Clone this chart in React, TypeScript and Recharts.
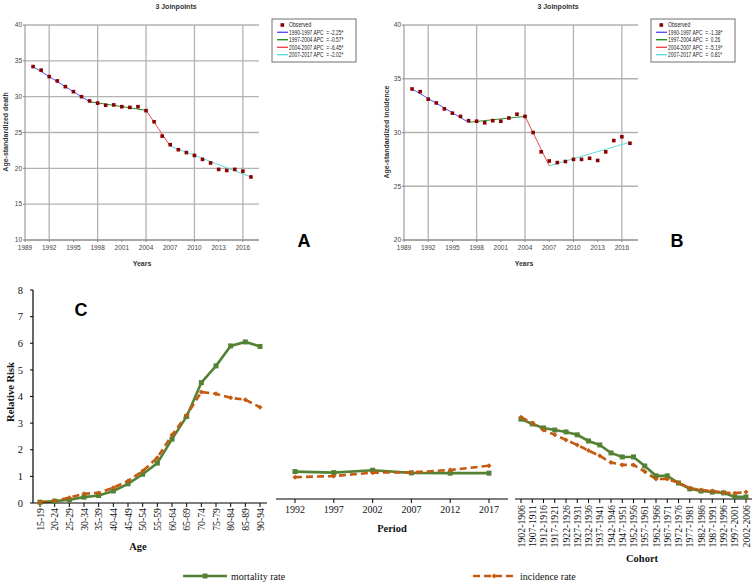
import React from 'react';
import { ComposedChart, LineChart, Line, Scatter, XAxis, YAxis, CartesianGrid } from 'recharts';

// ---------- Panels A & B (joinpoint) ----------
const YEARS = [1990, 1991, 1992, 1993, 1994, 1995, 1996, 1997, 1998, 1999, 2000, 2001, 2002, 2003, 2004, 2005, 2006, 2007, 2008, 2009, 2010, 2011, 2012, 2013, 2014, 2015, 2016, 2017];
const DEATH_OBSERVED = [34.2, 33.7, 32.8, 32.2, 31.4, 30.7, 30.0, 29.4, 29.1, 28.8, 28.85, 28.6, 28.5, 28.6, 28.05, 26.5, 24.5, 23.3, 22.6, 22.2, 21.8, 21.25, 20.75, 19.85, 19.7, 19.85, 19.6, 18.8];
const INCIDENCE_OBSERVED = [34.05, 33.8, 33.1, 32.75, 32.2, 31.8, 31.5, 31.1, 31.05, 30.9, 31.1, 31.05, 31.35, 31.7, 31.5, 30.0, 28.2, 27.35, 27.2, 27.3, 27.5, 27.5, 27.6, 27.4, 28.2, 29.25, 29.6, 29.0];
const JOINPOINT_YEARS = [1990, 1997, 2004, 2007, 2017];
const DEATH_FIT = [34.2, 29.3, 28.1, 23.1, 18.8];
const INCIDENCE_FIT = [34.05, 30.95, 31.5, 26.9, 29.1];
const DEATH_SEGMENT_LABELS = ['1990-1997 APC  = -2.25*', '1997-2004 APC  = -0.57*', '2004-2007 APC  = -6.45*', '2007-2017 APC  = -2.02*'];
const INCIDENCE_SEGMENT_LABELS = ['1990-1997 APC  = -1.38*', '1997-2004 APC  =  0.26', '2004-2007 APC  = -5.19*', '2007-2017 APC  =  0.81*'];
const SEGMENT_COLORS = ['#5252ff', '#2a8a2a', '#ee4a4a', '#5fdcdc'];
const YEAR_DOMAIN: [number, number] = [1989, 2018];
const YEAR_TICKS = [1989, 1992, 1995, 1998, 2001, 2004, 2007, 2010, 2013, 2016];
const DEATH_TICKS = [10, 15, 20, 25, 30, 35, 40];
const INCIDENCE_TICKS = [20, 25, 30, 35, 40];

// ---------- Panel C (age-period-cohort) ----------
const AGE_GROUPS = ['15-19', '20-24', '25-29', '30-34', '35-39', '40-44', '45-49', '50-54', '55-59', '60-64', '65-69', '70-74', '75-79', '80-84', '85-89', '90-94'];
const AGE_MORTALITY = [0.03, 0.07, 0.12, 0.22, 0.28, 0.45, 0.72, 1.08, 1.5, 2.4, 3.25, 4.52, 5.15, 5.9, 6.05, 5.88];
const AGE_INCIDENCE = [0.03, 0.08, 0.2, 0.35, 0.38, 0.57, 0.83, 1.2, 1.7, 2.55, 3.3, 4.17, 4.1, 3.95, 3.88, 3.6];
const PERIODS = ['1992', '1997', '2002', '2007', '2012', '2017'];
const PERIOD_MORTALITY = [1.03, 0.99, 1.08, 0.98, 0.97, 0.97];
const PERIOD_INCIDENCE = [0.82, 0.86, 0.99, 1.0, 1.09, 1.25];
const COHORTS = ['1902-1906', '1907-1911', '1912-1916', '1917-1921', '1922-1926', '1927-1931', '1932-1936', '1937-1941', '1942-1946', '1947-1951', '1952-1956', '1957-1961', '1962-1966', '1967-1971', '1972-1976', '1977-1981', '1982-1986', '1987-1991', '1992-1996', '1997-2001', '2002-2006'];
const COHORT_MORTALITY = [3.0, 2.82, 2.67, 2.59, 2.52, 2.41, 2.18, 2.03, 1.73, 1.58, 1.58, 1.24, 0.87, 0.87, 0.6, 0.38, 0.3, 0.26, 0.23, 0.08, 0.08];
const COHORT_INCIDENCE = [3.07, 2.85, 2.59, 2.41, 2.22, 2.03, 1.82, 1.62, 1.37, 1.28, 1.28, 1.03, 0.75, 0.75, 0.61, 0.41, 0.34, 0.3, 0.24, 0.22, 0.26];
const RR_TICKS = [0, 1, 2, 3, 4, 5, 6, 7, 8];

const SANS = '"Liberation Sans", Arial, sans-serif';
const SERIF = '"Liberation Serif", "Times New Roman", serif';
const GREEN = '#548235';
const ORANGE = '#C55A11';
const OBS_RED = '#8b0000';
const GRID = '#b2b2b2';
const FRAME = '#8a8a8a';

// One row per year: observed value plus each fitted segment at its two joinpoints
const joinpointRows = (obs: number[], fit: number[]) =>
  YEARS.map((year, i) => {
    const row: any = { year, observed: obs[i] };
    for (let k = 0; k < JOINPOINT_YEARS.length - 1; k++) {
      if (year === JOINPOINT_YEARS[k]) row['seg' + k] = fit[k];
      if (year === JOINPOINT_YEARS[k + 1]) row['seg' + k] = fit[k + 1];
    }
    return row;
  });

const apcData = (labels: string[], m: number[], inc: number[]) =>
  labels.map((label, i) => ({ label, mortality: m[i], incidence: inc[i] }));

const SquareDot = (p: any) => {
  if (p.cx == null || p.cy == null) return null;
  return <rect x={p.cx - 1.8} y={p.cy - 1.8} width={3.6} height={3.6} fill={OBS_RED} />;
};
const MortDot = (p: any) => {
  if (p.cx == null || p.cy == null) return null;
  return <rect key={p.key} x={p.cx - 2.5} y={p.cy - 2.5} width={5} height={5} fill={GREEN} />;
};
const IncDot = (p: any) => {
  if (p.cx == null || p.cy == null) return null;
  return (
    <path
      key={p.key}
      d={`M${p.cx},${p.cy - 2.5}L${p.cx + 2.5},${p.cy}L${p.cx},${p.cy + 2.5}L${p.cx - 2.5},${p.cy}Z`}
      fill={ORANGE}
    />
  );
};
const RotTick = (p: any) => {
  const { x, y, payload } = p;
  return (
    <text
      x={x}
      y={y}
      transform={`rotate(-90 ${x} ${y})`}
      textAnchor="end"
      dominantBaseline="central"
      fontSize={9.8}
      fontFamily={SERIF}
      fill="#111"
    >
      {payload.value}
    </text>
  );
};

function JoinpointChart({ observed, fit, yDomain, yTicks }: { observed: number[]; fit: number[]; yDomain: [number, number]; yTicks: number[] }) {
  const rows = joinpointRows(observed, fit);
  return (
    <ComposedChart width={376} height={275} data={rows} margin={{ top: 25, right: 117, bottom: 0, left: 0 }}>
      <CartesianGrid stroke={GRID} strokeWidth={1.3} horizontalValues={yTicks} verticalValues={YEAR_TICKS} />
      <XAxis
        dataKey="year"
        type="number"
        domain={YEAR_DOMAIN}
        ticks={YEAR_TICKS}
        allowDataOverflow
        height={35}
        tickSize={2}
        tickMargin={3}
        tick={{ fontSize: 6.5, fontFamily: SANS, fill: '#444' }}
        axisLine={{ stroke: FRAME }}
        tickLine={{ stroke: FRAME }}
      />
      <XAxis
        xAxisId="top"
        orientation="top"
        dataKey="year"
        type="number"
        domain={YEAR_DOMAIN}
        allowDataOverflow
        height={0}
        tick={false}
        tickLine={false}
        axisLine={{ stroke: FRAME }}
      />
      <YAxis
        type="number"
        domain={yDomain}
        ticks={yTicks}
        allowDataOverflow
        width={25}
        tickSize={2}
        tickMargin={1}
        tick={{ fontSize: 6.5, fontFamily: SANS, fill: '#444' }}
        axisLine={{ stroke: FRAME }}
        tickLine={{ stroke: FRAME }}
      />
      <YAxis
        yAxisId="right"
        orientation="right"
        type="number"
        domain={yDomain}
        allowDataOverflow
        width={0}
        tick={false}
        tickLine={false}
        axisLine={{ stroke: FRAME }}
      />
      {SEGMENT_COLORS.map((c, k) => (
        <Line key={k} dataKey={'seg' + k} connectNulls stroke={c} strokeWidth={1} dot={false} isAnimationActive={false} />
      ))}
      <Scatter dataKey="observed" shape={SquareDot} isAnimationActive={false} />
    </ComposedChart>
  );
}

function JoinLegend({ x, y, labels }: { x: number; y: number; labels: string[] }) {
  const rows = [6, 13.3, 20.7, 28.3, 35.7];
  return (
    <g fontFamily={SANS} fontSize={6.6} fill="#222">
      <rect x={x} y={y} width={84} height={43} fill="#fff" stroke="#707070" strokeWidth={1} />
      <rect x={x + 8.5} y={y + rows[0] - 1.8} width={3.6} height={3.6} fill={OBS_RED} />
      <text transform={`translate(${x + 17},${y + rows[0]}) scale(0.78,1)`} dominantBaseline="central">Observed</text>
      {labels.map((l, i) => (
        <g key={l}>
          <line x1={x + 5} x2={x + 16} y1={y + rows[i + 1]} y2={y + rows[i + 1]} stroke={SEGMENT_COLORS[i]} strokeWidth={1.4} />
          <text transform={`translate(${x + 17},${y + rows[i + 1]}) scale(0.74,1)`} dominantBaseline="central" style={{ whiteSpace: 'pre' }}>
            {l}
          </text>
        </g>
      ))}
    </g>
  );
}

export default function App() {
  const ageData = apcData(AGE_GROUPS, AGE_MORTALITY, AGE_INCIDENCE);
  const periodData = apcData(PERIODS, PERIOD_MORTALITY, PERIOD_INCIDENCE);
  const cohortData = apcData(COHORTS, COHORT_MORTALITY, COHORT_INCIDENCE);

  const mortLine = (
    <Line dataKey="mortality" stroke={GREEN} strokeWidth={2.6} dot={MortDot} isAnimationActive={false} />
  );
  const incLine = (
    <Line dataKey="incidence" stroke={ORANGE} strokeWidth={2.6} strokeDasharray="7 4" dot={IncDot} isAnimationActive={false} />
  );

  return (
    <div style={{ position: 'absolute', left: 0, top: 0, width: 753, height: 582, background: '#fff', overflow: 'hidden' }}>
      <div style={{ position: 'absolute', left: 0, top: 0 }}>
        <JoinpointChart observed={DEATH_OBSERVED} fit={DEATH_FIT} yDomain={[10, 40]} yTicks={DEATH_TICKS} />
      </div>
      <div style={{ position: 'absolute', left: 379, top: 0 }}>
        <JoinpointChart observed={INCIDENCE_OBSERVED} fit={INCIDENCE_FIT} yDomain={[20, 40]} yTicks={INCIDENCE_TICKS} />
      </div>

      {/* Panel C: Age */}
      <div style={{ position: 'absolute', left: 0, top: 280 }}>
        <LineChart width={270} height={302} data={ageData} margin={{ top: 10, right: 3, left: 0, bottom: 0 }}>
          <XAxis
            dataKey="label"
            height={79}
            padding={{ left: 7, right: 7 }}
            interval={0}
            tick={RotTick}
            tickSize={4}
            tickMargin={1}
            axisLine={{ stroke: '#000', strokeWidth: 1.2 }}
            tickLine={{ stroke: '#000' }}
          />
          <YAxis
            domain={[0, 8]}
            ticks={RR_TICKS}
            width={33}
            tickSize={3}
            tickMargin={7}
            tick={{ fontSize: 10.5, fontFamily: SERIF, fill: '#111' }}
            axisLine={{ stroke: '#000', strokeWidth: 1.2 }}
            tickLine={{ stroke: '#000' }}
          />
          {mortLine}
          {incLine}
        </LineChart>
      </div>

      {/* Panel C: Period */}
      <div style={{ position: 'absolute', left: 270, top: 280 }}>
        <LineChart width={245} height={302} data={periodData} margin={{ top: 6, right: 7, left: 6, bottom: 0 }}>
          <XAxis
            dataKey="label"
            height={83}
            padding={{ left: 19, right: 19 }}
            interval={0}
            tickSize={4}
            tickMargin={3}
            tick={{ fontSize: 10, fontFamily: SERIF, fill: '#111' }}
            axisLine={{ stroke: '#000', strokeWidth: 1.2 }}
            tickLine={{ stroke: '#000' }}
          />
          <YAxis hide domain={[0, 8]} />
          {mortLine}
          {incLine}
        </LineChart>
      </div>

      {/* Panel C: Cohort */}
      <div style={{ position: 'absolute', left: 508, top: 280 }}>
        <LineChart width={245} height={302} data={cohortData} margin={{ top: 6, right: 1, left: 7, bottom: 0 }}>
          <XAxis
            dataKey="label"
            height={83}
            padding={{ left: 6, right: 6 }}
            interval={0}
            tick={RotTick}
            tickSize={4}
            tickMargin={2}
            axisLine={{ stroke: '#000', strokeWidth: 1.2 }}
            tickLine={{ stroke: '#000' }}
          />
          <YAxis hide domain={[0, 8]} />
          {mortLine}
          {incLine}
        </LineChart>
      </div>

      {/* Text overlay: titles, axis titles, panel letters, legends */}
      <svg width={753} height={582} style={{ position: 'absolute', left: 0, top: 0, pointerEvents: 'none' }}>
        <g fontFamily={SANS} fontWeight="bold" fill="#333" fontSize={7}>
          <text x={176} y={6} textAnchor="middle" dominantBaseline="central">3 Joinpoints</text>
          <text x={558} y={6} textAnchor="middle" dominantBaseline="central">3 Joinpoints</text>
          <text x={142} y={263} textAnchor="middle" dominantBaseline="central">Years</text>
          <text x={524} y={263} textAnchor="middle" dominantBaseline="central">Years</text>
          <text x={5} y={132} textAnchor="middle" dominantBaseline="central" transform="rotate(-90 5 132)">Age-standardized death</text>
          <text x={386} y={132} textAnchor="middle" dominantBaseline="central" transform="rotate(-90 386 132)">Age-standardized incidence</text>
        </g>
        <g fontFamily={SANS} fontWeight="bold" fill="#000" fontSize={18}>
          <text x={304} y={241} textAnchor="middle" dominantBaseline="central">A</text>
          <text x={677} y={241} textAnchor="middle" dominantBaseline="central">B</text>
          <text x={81} y={310} textAnchor="middle" dominantBaseline="central">C</text>
        </g>
        <JoinLegend x={272} y={19} labels={DEATH_SEGMENT_LABELS} />
        <JoinLegend x={651} y={19} labels={INCIDENCE_SEGMENT_LABELS} />

        <g fontFamily={SERIF} fontWeight="bold" fill="#111" fontSize={10.5}>
          <text x={10} y={392} textAnchor="middle" dominantBaseline="central" transform="rotate(-90 10 392)">Relative Risk</text>
          <text x={138} y={546} textAnchor="middle" dominantBaseline="central">Age</text>
          <text x={392} y={528} textAnchor="middle" dominantBaseline="central">Period</text>
          <text x={642} y={558} textAnchor="middle" dominantBaseline="central">Cohort</text>
        </g>

        <g fontFamily={SERIF} fill="#111" fontSize={10}>
          <line x1={183} x2={227} y1={576} y2={576} stroke={GREEN} strokeWidth={2.6} />
          <rect x={202.5} y={573.5} width={5} height={5} fill={GREEN} />
          <text x={231} y={576} dominantBaseline="central">mortality rate</text>
          <line x1={473} x2={515} y1={576} y2={576} stroke={ORANGE} strokeWidth={2.6} strokeDasharray="7 4" />
          <path d="M494,573.5L496.5,576L494,578.5L491.5,576Z" fill={ORANGE} />
          <text x={520} y={576} dominantBaseline="central">incidence rate</text>
        </g>
      </svg>
    </div>
  );
}
